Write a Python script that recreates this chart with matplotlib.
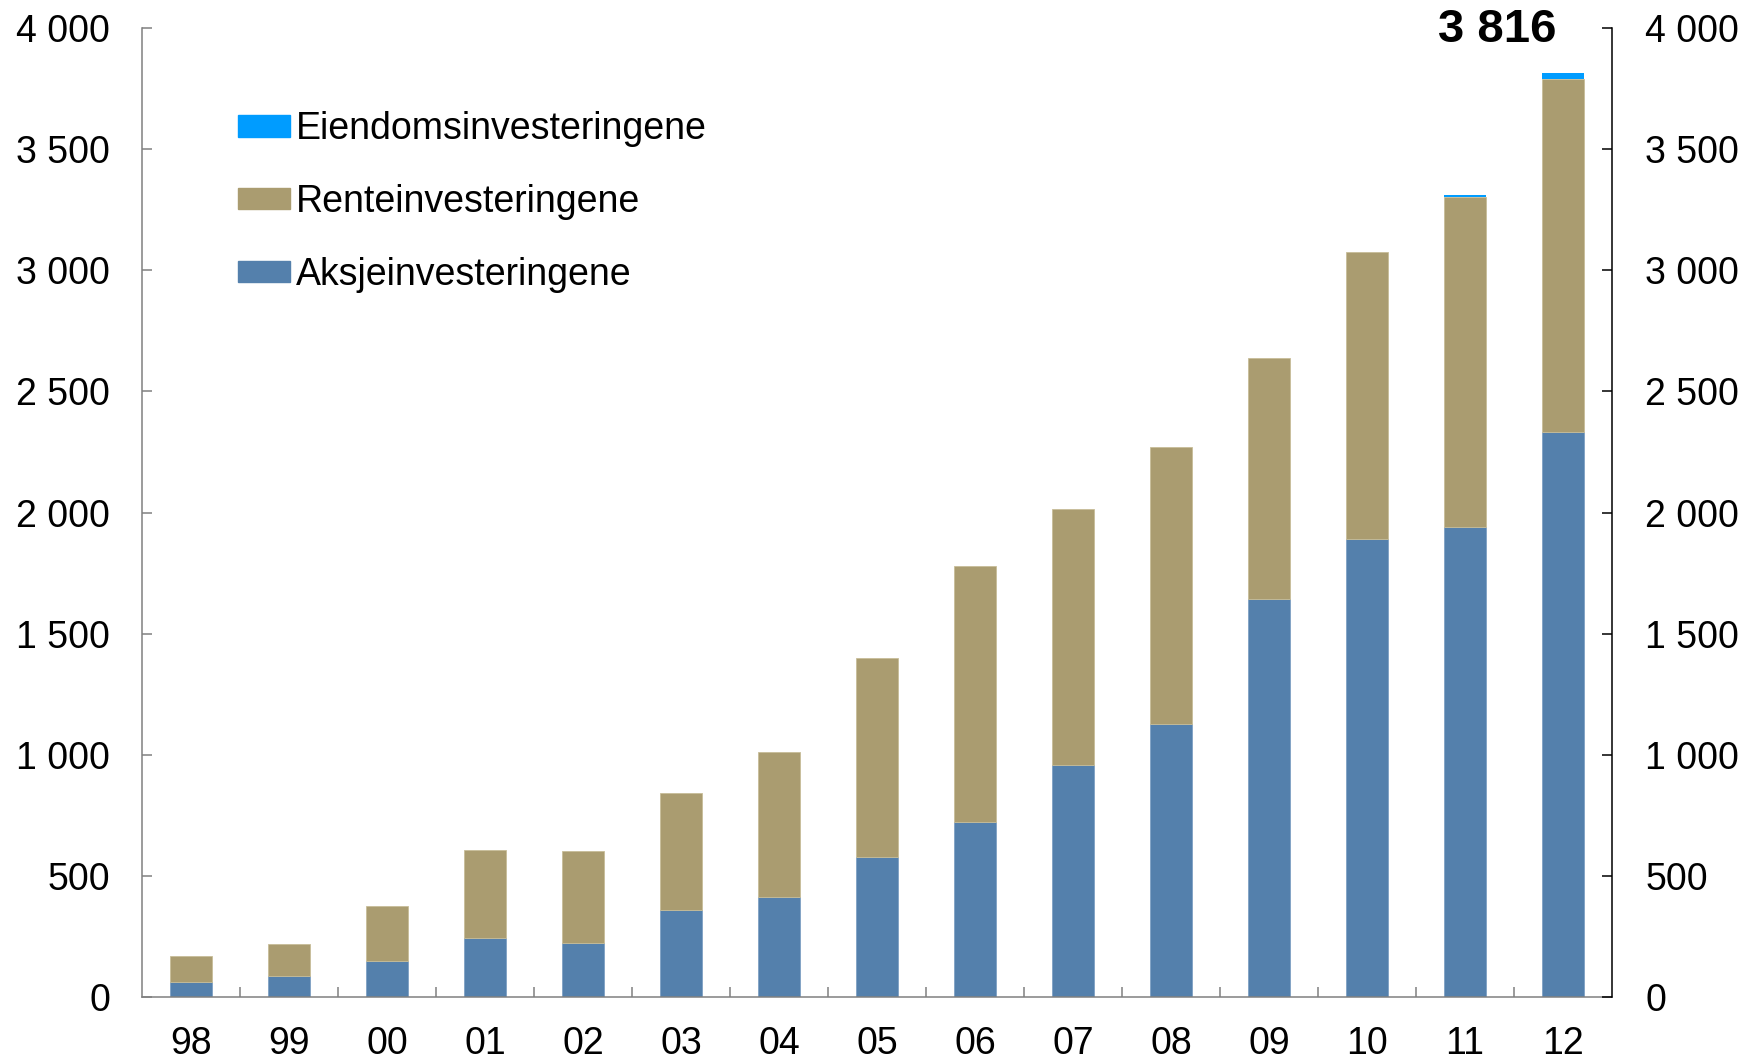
import matplotlib
matplotlib.use("Agg")
import matplotlib.pyplot as plt
from matplotlib.ticker import FuncFormatter, FixedLocator
from matplotlib.patches import Patch

plt.rcParams['font.family'] = ['Liberation Sans', 'DejaVu Sans']

years = ["98", "99", "00", "01", "02", "03", "04", "05", "06", "07", "08", "09", "10", "11", "12"]
aksje = [64, 87, 147, 244, 225, 359, 414, 579, 722, 956, 1127, 1641, 1890, 1940, 2331]
rente = [106, 134, 230, 363, 377, 482, 598, 819, 1057, 1058, 1144, 998, 1186, 1361, 1458]
eiendom = [0, 0, 0, 0, 0, 0, 0, 0, 0, 0, 0, 0, 0, 9, 27]
total_label = "3 816"

c_aksje = "#5480AC"
c_rente = "#AA9C70"
c_eiendom = "#009CFF"

fig = plt.figure(figsize=(17.47, 10.59), dpi=100)
ax = fig.add_axes([0.0813, 0.0585, 0.8414, 0.9151])

x = list(range(len(years)))
w = 0.42
ax.bar(x, aksje, w, color=c_aksje, edgecolor="#7fa0c4", linewidth=0.6)
bottom2 = aksje
ax.bar(x, rente, w, bottom=bottom2, color=c_rente, edgecolor="#c8bd98", linewidth=0.6)
bottom3 = [a + r for a, r in zip(aksje, rente)]
ax.bar(x, eiendom, w, bottom=bottom3, color=c_eiendom, linewidth=0)

ax.set_xlim(-0.5, len(years) - 0.5)
ax.set_ylim(0, 4000)

fmt = FuncFormatter(lambda v, p: f"{int(v):,}".replace(",", " "))
ax.yaxis.set_major_locator(FixedLocator(range(0, 4001, 500)))
ax.yaxis.set_major_formatter(fmt)

ax.set_xticks(x)
ax.set_xticklabels(years)
ax.xaxis.set_minor_locator(FixedLocator([i + 0.5 for i in range(len(years) - 1)]))
ax.tick_params(axis="x", which="major", length=0, pad=21, labelsize=27)
ax.tick_params(axis="x", which="minor", direction="in", length=7, width=1.1, color="#808080")
ax.tick_params(axis="y", direction="in", length=7, width=1.1, color="#808080", pad=23, labelsize=27)

for s in ["top", "right"]:
    ax.spines[s].set_visible(False)
ax.spines["left"].set_color("#808080")
ax.spines["bottom"].set_color("#808080")
ax.spines["left"].set_linewidth(1.1)
ax.spines["bottom"].set_linewidth(1.1)

ax2 = ax.twinx()
ax2.set_ylim(0, 4000)
ax2.yaxis.set_major_locator(FixedLocator(range(0, 4001, 500)))
ax2.yaxis.set_major_formatter(fmt)
ax2.tick_params(axis="y", direction="in", length=7, width=1.1, color="black", pad=24, labelsize=27)
for s in ["top", "left", "bottom"]:
    ax2.spines[s].set_visible(False)
ax2.spines["right"].set_color("black")
ax2.spines["right"].set_linewidth(1.1)

ax.text(13.33, 3990, total_label, ha="center", va="center", fontsize=34, fontweight="bold")

handles = [Patch(color=c_eiendom, label="Eiendomsinvesteringene"),
           Patch(color=c_rente, label="Renteinvesteringene"),
           Patch(color=c_aksje, label="Aksjeinvesteringene")]
ax.legend(handles=handles, loc="upper left", bbox_to_anchor=(0.136, 0.895),
          bbox_transform=fig.transFigure, frameon=False, fontsize=27,
          handlelength=1.4, handleheight=0.5, handletextpad=0.15,
          labelspacing=0.98, borderpad=0, borderaxespad=0)

fig.savefig("out.png", dpi=100)
